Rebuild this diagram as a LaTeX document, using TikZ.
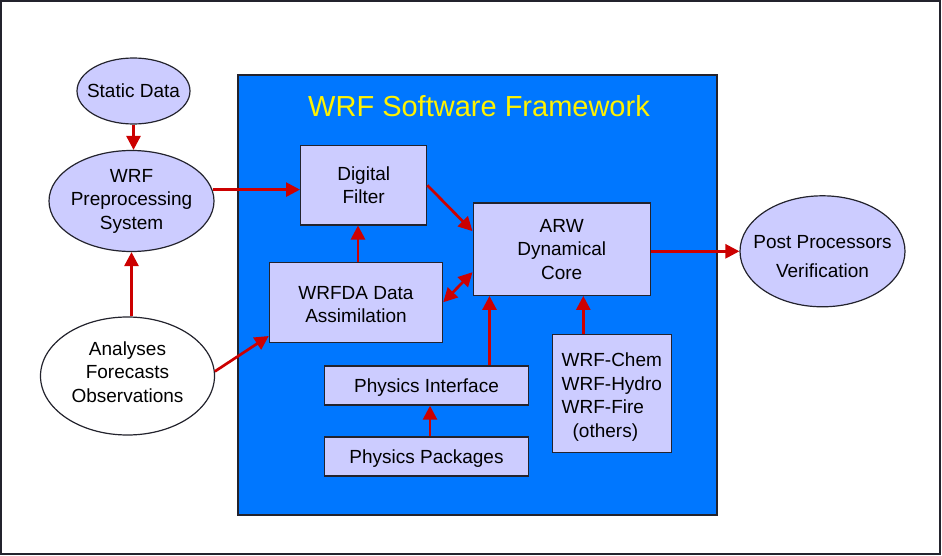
\documentclass[tikz,border=0pt]{standalone}
\usepackage{fontspec}
\setmainfont{Liberation Sans}
\usetikzlibrary{shapes.geometric,arrows.meta}
\definecolor{lav}{RGB}{204,204,255}
\definecolor{wrfblue}{RGB}{0,119,255}
\definecolor{wrfred}{RGB}{204,0,0}
\definecolor{edge}{RGB}{35,35,45}
\newcommand\boxfont{\fontsize{19}{23.5}\selectfont}
\begin{document}
\begin{tikzpicture}[x=1pt,y=-1pt,>={Triangle[length=14pt,width=14pt]},
	box/.style = {draw=edge,fill=lav,line width=1.4pt,inner sep=0pt,align=center,font=\boxfont},
	oval/.style = {ellipse,draw=edge,fill=lav,line width=1.2pt,inner xsep=-12pt,inner ysep=0pt,align=center,font=\boxfont},
	link/.style = {draw=wrfred,line width=2.7pt}]
			\useasboundingbox (0,0) rectangle (942,556);
			\draw[draw=edge,line width=2pt] (1,1) rectangle (939.5,553.5);
			\node (FW) at (477.5,295) [draw=edge,fill=wrfblue,line width=1.4pt,minimum width=479pt,minimum height=440pt] {};
			\node (T) at (479,106) [text=yellow,font=\fontsize{29}{32}\selectfont] {WRF Software Framework};
			\node (SD) at (133.5,91) [oval,minimum width=113pt,minimum height=66pt] {Static Data};
			\node (WPS) at (131.5,201) [oval,minimum width=165pt,minimum height=101pt] {WRF\\Preprocessing\\System};
			\node (AFO) at (127.5,376) [oval,fill=white,minimum width=174pt,minimum height=118pt] {Analyses\\Forecasts\\Observations\rule[-8pt]{0pt}{8pt}};
			\node (DF) at (363.7,185.3) [box,minimum width=126pt,minimum height=79pt] {Digital\\Filter};
			\node (DA) at (356,302.3) [box,minimum width=173pt,minimum height=80pt] {\rule{0pt}{18pt}WRFDA Data\\Assimilation};
			\node (ARW) at (561.7,249.2) [box,minimum width=177pt,minimum height=92pt] {ARW\\Dynamical\\Core};
			\node (PI) at (426.5,385.5) [box,text depth=0pt,minimum width=204pt,minimum height=39pt] {Physics Interface};
			\node (PK) at (426.5,456.5) [box,text depth=0pt,minimum width=204pt,minimum height=39pt] {Physics Packages};
			\node (CH) at (611.8,393.2) [box,align=left,minimum width=119pt,minimum height=118pt] {\rule{0pt}{22pt}WRF-Chem\\WRF-Hydro\\WRF-Fire\\\hspace{11pt}(others)};
			\node (PPV) at (822.5,251.3) [oval,minimum width=165pt,minimum height=111pt] {\rule{0pt}{24pt}Post Processors\\[6pt]Verification};
			% connectors
			\draw [link,->] (SD.south) -- (SD.south |- WPS.north);
			\draw [link,->] (AFO.north -| WPS.south) -- (WPS.south);
			\draw [link,->] (WPS.8) -- (WPS.8 -| DF.west);
			\draw [link,->] (AFO.3) -- ([yshift=7pt]DA.south west);
			\draw [link,->] ([xshift=2pt]DA.north) -- ([xshift=2pt]DA.north |- DF.south);
			\draw [link,->] (DF.east) -- ([yshift=18pt]ARW.west);
			\draw [link,<->] (DA.east) -- ([yshift=-23pt]ARW.west);
			\draw [link,->] ([xshift=63pt]PI.north) -- ([xshift=63pt]PI.north |- ARW.south);
			\draw [link,->] ([xshift=-28.5pt]CH.north) -- ([xshift=-28.5pt]CH.north |- ARW.south);
			\draw [link,->] ([xshift=3.5pt]PK.north) -- ([xshift=3.5pt]PI.south);
			\draw [link,->] (ARW.east |- PPV.west) -- (PPV.west);
		\end{tikzpicture}
\end{document}
